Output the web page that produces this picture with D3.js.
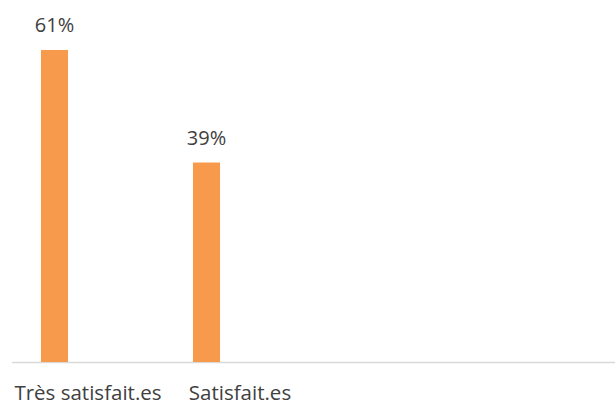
<!DOCTYPE html>
<html>
<head>
<meta charset="utf-8">
<script src="https://cdn.jsdelivr.net/npm/d3@7"></script>
<style>
  body { margin: 0; background: #fff; }
  text { font-family: "Open Sans", sans-serif; fill: #404040; }
</style>
</head>
<body>
<div id="chart"></div>
<script>
var categories = ["Très satisfait.es", "Satisfait.es"];
var values = [0.61, 0.39];

var width = 615, height = 403;

var svg = d3.select("#chart")
  .append("svg")
  .attr("width", width)
  .attr("height", height);

var baseline = 362;

var x = d3.scaleBand()
    .domain(categories)
    .range([-21.5, 282.5])
    .paddingInner(0.822)
    .paddingOuter(0.411);

var y = d3.scaleLinear()
    .domain([0, 0.7])
    .range([baseline, baseline - 0.7 * 511.5]);

var fmt = d3.format(".0%");

svg.append("line")
    .attr("x1", 12)
    .attr("x2", width)
    .attr("y1", baseline + 0.5)
    .attr("y2", baseline + 0.5)
    .attr("stroke", "#d9d9d9")
    .attr("stroke-width", 1.3);

svg.selectAll(".bar")
    .data(values)
  .enter().append("rect")
    .attr("class", "bar")
    .attr("x", function(d, i) { return x(categories[i]); })
    .attr("width", x.bandwidth())
    .attr("y", function(d) { return y(d); })
    .attr("height", function(d) { return baseline - y(d); })
    .style("fill", "#f79a4b");

svg.selectAll(".value")
    .data(values)
  .enter().append("text")
    .attr("class", "value")
    .attr("x", function(d, i) { return x(categories[i]) + x.bandwidth() / 2; })
    .attr("y", function(d) { return y(d) - 18; })
    .attr("text-anchor", "middle")
    .style("font-size", "20px")
    .text(function(d) { return fmt(d); });

svg.selectAll(".cat")
    .data(categories)
  .enter().append("text")
    .attr("class", "cat")
    .attr("x", function(d) { return x(d) + x.bandwidth() / 2 + 33.5; })
    .attr("y", 399.5)
    .attr("text-anchor", "middle")
    .style("font-size", "20.5px")
    .text(function(d) { return d; });
</script>
</body>
</html>
